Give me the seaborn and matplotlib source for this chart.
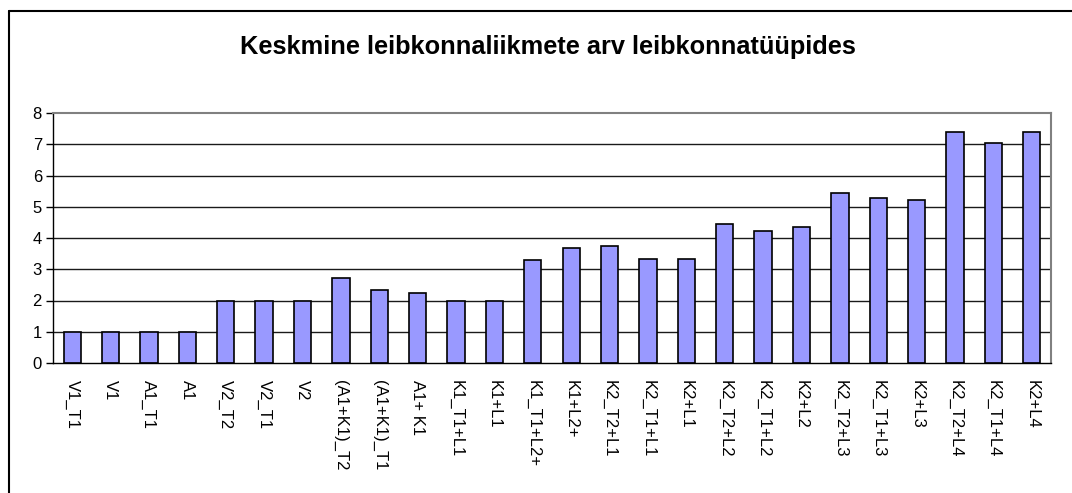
import matplotlib
matplotlib.use("Agg")
import matplotlib.pyplot as plt
import seaborn as sns
import pandas as pd
import numpy as np

categories = ["V1_T1", "V1", "A1_T1", "A1", "V2_T2", "V2_T1", "V2",
              "(A1+K1)_T2", "(A1+K1)_T1", "A1+ K1", "K1_T1+L1", "K1+L1",
              "K1_T1+L2+", "K1+L2+", "K2_T2+L1", "K2_T1+L1", "K2+L1",
              "K2_T2+L2", "K2_T1+L2", "K2+L2", "K2_T2+L3", "K2_T1+L3",
              "K2+L3", "K2_T2+L4", "K2_T1+L4", "K2+L4"]
values = [1.0, 1.0, 1.0, 1.0, 2.0, 2.0, 2.0,
          2.72, 2.34, 2.24, 2.0, 2.0,
          3.29, 3.68, 3.73, 3.34, 3.34,
          4.46, 4.22, 4.35, 5.45, 5.29,
          5.23, 7.39, 7.05, 7.39]
y_ticks = [0, 1, 2, 3, 4, 5, 6, 7, 8]
title = "Keskmine leibkonnaliikmete arv leibkonnatüüpides"

sns.set_style("white")
plt.rcParams['font.family'] = ['Liberation Sans', 'DejaVu Sans']
plt.rcParams['text.color'] = 'black'
plt.rcParams['xtick.color'] = 'black'
plt.rcParams['ytick.color'] = 'black'

W, H = 1072, 493
fig = plt.figure(figsize=(W / 100, H / 100), dpi=100)
fig.patch.set_facecolor("white")

left, right, top, bottom = 53, 1051, 113, 363
ax = fig.add_axes([left / W, 1 - bottom / H, (right - left) / W, (bottom - top) / H])

df = pd.DataFrame({"cat": categories, "val": values})
sns.barplot(data=df, x="cat", y="val", order=categories, color="#9999FF",
            saturation=1, width=0.45, edgecolor="black", linewidth=1.2, ax=ax,
            zorder=3)

ax.set_xlim(-0.5, len(categories) - 0.5)
ax.set_ylim(0, 8)
ax.set_yticks(y_ticks)
ax.set_yticklabels([str(t) for t in y_ticks], fontsize=12)
ax.set_xlabel("")
ax.set_ylabel("")

ax.set_xticks(range(len(categories)))
ax.set_xticklabels(categories, rotation=-90, fontsize=12, va="top", ha="center")
ax.tick_params(axis="x", which="major", length=0, pad=12)
ax.set_xticks(np.arange(-0.5, len(categories), 1.0), minor=True)
ax.tick_params(axis="x", which="minor", length=5, width=1, color="black",
               direction="out")
ax.tick_params(axis="y", length=5, width=1, color="black", direction="out",
               pad=3, left=True)

for y in y_ticks[1:-1]:
    ax.axhline(y, color="#1a1a1a", linewidth=1.0, zorder=1)

ax.spines["left"].set_color("black")
ax.spines["left"].set_linewidth(1.0)
ax.spines["bottom"].set_color("black")
ax.spines["bottom"].set_linewidth(1.0)
ax.spines["top"].set_color("#808080")
ax.spines["top"].set_linewidth(1.5)
ax.spines["right"].set_color("#808080")
ax.spines["right"].set_linewidth(1.5)
for s in ax.spines.values():
    s.set_visible(True)
    s.set_zorder(4)

fig.add_artist(plt.Line2D([9 / W, 9 / W], [0, 1 - 11 / H], color="black",
                          linewidth=1.5, transform=fig.transFigure))
fig.add_artist(plt.Line2D([9 / W, 1], [1 - 11 / H, 1 - 11 / H], color="black",
                          linewidth=1.5, transform=fig.transFigure))

fig.text(548 / W, 1 - 47 / H, title, ha="center", va="center",
         fontsize=18.3, fontweight="bold", color="black")

fig.savefig("out.png", dpi=100, facecolor="white")
